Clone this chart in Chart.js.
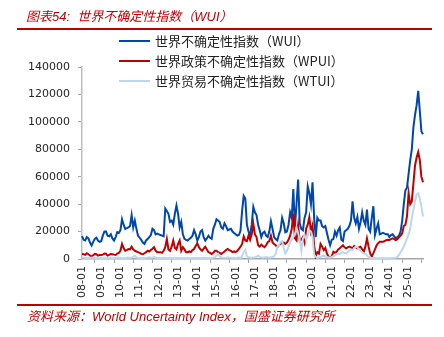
<!DOCTYPE html>
<html>
<head>
<meta charset="utf-8">
<script src="https://cdn.jsdelivr.net/npm/chart.js@4"></script>
<style>
  body { margin: 0; background: #fff; }
  #wrap { position: relative; width: 444px; height: 337px; overflow: hidden; }
  #c { position: absolute; left: 0; top: 0; }
  .red-txt { position: absolute; color: #c00000; font-style: italic; font-size: 13px; white-space: nowrap;
             font-family: "Liberation Sans", "Noto Sans CJK SC", sans-serif; }
  .rule { position: absolute; left: 17px; width: 415px; height: 1.5px; background: #c00000; }
  .leg { position: absolute; left: 119px; height: 16px; }
  .leg i { position: absolute; left: 0; top: 7px; width: 31px; height: 2px; }
  .leg span { position: absolute; left: 36px; top: 0; white-space: nowrap; font-size: 13px; line-height: 16px;
              color: #222; font-family: "Noto Sans CJK SC", sans-serif; }
</style>
</head>
<body>
<div id="wrap">
  <canvas id="c" width="444" height="337"></canvas>
  <div class="red-txt" style="left:26px; top:6px;">图表54:&nbsp; 世界不确定性指数（WUI）</div>
  <div class="rule" style="top:28px;"></div>
  <div class="leg" style="top:33px;"><i style="background:#0047ab"></i><span>世界不确定性指数（WUI）</span></div>
  <div class="leg" style="top:53px;"><i style="background:#c00000"></i><span>世界政策不确定性指数（WPUI）</span></div>
  <div class="leg" style="top:73px;"><i style="background:#bdd7ee"></i><span>世界贸易不确定性指数（WTUI）</span></div>
  <div class="rule" style="top:304px;"></div>
  <div class="red-txt" style="left:27px; top:306px;">资料来源：World Uncertainty Index，国盛证券研究所</div>
</div>
<script>
// monthly, 2008-01 .. 2025-10
const years = ['08','09','10','11','12','13','14','15','16','17','18','19','20','21','22','23','24','25'];
const monthsLastYear = 10;

const wui = [
  16700, 14000, 13500, 16000, 15000, 12000, 9800, 12500, 14700, 15500, 13500, 12500,
  13000, 17000, 20000, 20000, 17000, 16500, 18000, 15000, 13500, 16000, 19600, 19000,
  21000, 29000, 25000, 22000, 22500, 23000, 24000, 32000, 23000, 28000, 22000, 17000,
  15500, 14000, 12000, 11000, 13500, 14500, 16000, 17500, 22000, 21000, 18000, 18500,
  18000, 17500, 17000, 16500, 36800, 35000, 33000, 27000, 28000, 25000, 33000, 39000,
  33000, 23000, 27000, 18000, 14700, 14000, 13500, 14500, 15500, 17000, 21000, 18000,
  13500, 16000, 20000, 21000, 16000, 13500, 15000, 17000, 15500, 14700, 22000, 25000,
  29000, 28000, 27000, 23000, 22000, 26000, 24000, 21000, 21500, 22000, 20000, 19000,
  18000, 17000, 17500, 20500, 35000, 46000, 44000, 25000, 20000, 17000, 25000, 38000,
  34000, 32000, 25000, 21000, 16000, 19000, 20000, 17000, 16000, 20000, 27500, 22000,
  16000, 14500, 13500, 18000, 21000, 30000, 26000, 19500, 20000, 25000, 34000, 30000,
  51000, 23000, 40000, 58000, 26000, 22000, 21000, 30000, 34000, 53000, 48000, 40000,
  56000, 30000, 16000, 30000, 28000, 28000, 24000, 23000, 24000, 19000, 14000, 10000,
  14000, 14500, 20000, 17000, 21000, 23000, 14000, 13000, 20000, 21000, 22000, 24000,
  28000, 42000, 30000, 26000, 30600, 22000, 27000, 34000, 28000, 25000, 36000, 22000,
  20000, 30000, 38500, 17500, 22000, 26000, 18000, 18500, 19000, 18500, 18000, 18000,
  16000, 17500, 18000, 16500, 15000, 16000, 17000, 20000, 28000, 40000, 50000, 52000,
  62000, 72000, 80000, 96000, 105000, 112000, 122600, 108000, 93000, 91000
];

const wpui = [
  3700, 3500, 3000, 4200, 3500, 2500, 1700, 2800, 3700, 3500, 2500, 3000,
  3000, 3200, 4000, 3800, 2500, 3000, 3700, 3500, 3200, 3000, 4000, 4500,
  6000, 11000, 8000, 6000, 6500, 7300, 7000, 9000, 7000, 6000, 5500, 5000,
  4500, 3700, 3500, 4200, 5000, 6000, 5500, 6600, 7500, 8600, 6000, 5000,
  5000, 5000, 4500, 6000, 8600, 14700, 7000, 6000, 9000, 13500, 8000, 7000,
  11000, 13500, 6000, 8600, 7000, 5000, 5000, 5500, 5000, 6500, 7300, 9500,
  11500, 8600, 7000, 6000, 7500, 9000, 7000, 5000, 4500, 3700, 4500, 6000,
  6000, 5000, 4500, 3700, 4500, 5500, 6500, 7300, 6500, 6000, 5000, 5500,
  5000, 6000, 7300, 9000, 11000, 16400, 13500, 13000, 17000, 14000, 18000, 25700,
  18000, 16000, 10000, 9000, 10500, 9500, 8600, 10000, 12200, 13000, 17000, 12000,
  11000, 10000, 8600, 10000, 11000, 12200, 12000, 11000, 12000, 14000, 17000, 22000,
  33000, 15000, 13500, 24500, 13500, 14000, 16000, 12000, 22000, 25000, 30600, 20000,
  24500, 10000, 2000, 5000, 4000, 11000, 9000, 6500, 8000, 4000, 1700, 1200,
  2000, 5300, 4500, 5300, 7000, 7800, 9000, 10000, 8500, 7800, 8500, 9000,
  8500, 7800, 9500, 8500, 7800, 8500, 9000, 7000, 5300, 9000, 15000, 9000,
  4000, 1700, 4300, 7000, 10000, 11500, 12600, 12600, 12600, 13000, 13800, 14000,
  13800, 14500, 15000, 14500, 13800, 14500, 16000, 17000, 18700, 24000, 25000, 31000,
  48000, 40000, 42000, 55000, 68000, 74000, 78000, 72000, 60000, 56000
];

const wtui = [
  1200, 1000, 800, 900, 700, 800, 1000, 900, 700, 800, 600, 700,
  700, 800, 600, 700, 900, 800, 700, 600, 800, 700, 900, 1000,
  900, 800, 700, 800, 900, 1000, 800, 1200, 1500, 2500, 1200, 900,
  800, 700, 800, 700, 900, 1000, 1200, 900, 1000, 1500, 900, 800,
  700, 800, 700, 900, 800, 700, 800, 900, 700, 800, 900, 800,
  700, 800, 700, 600, 700, 800, 700, 600, 700, 800, 700, 800,
  700, 800, 700, 800, 900, 800, 700, 800, 900, 800, 1000, 1200,
  2500, 3700, 2000, 1200, 1000, 900, 1000, 1200, 1000, 900, 800, 900,
  800, 900, 1000, 800, 2000, 5000, 6500, 2000, 1200, 1000, 900, 1000,
  1200, 1500, 2500, 1500, 1200, 1000, 1200, 1500, 1200, 1000, 1300, 1500,
  2000, 4000, 9000, 10000, 12600, 13000, 8000, 4000, 6000, 9000, 12000, 14000,
  16000, 18000, 23000, 19000, 14000, 6000, 15000, 17500, 14000, 17000, 21000, 20000,
  16000, 3000, 1500, 1000, 1200, 1500, 2000, 2500, 1800, 1500, 1200, 1000,
  1500, 2000, 2500, 3500, 4000, 3500, 4500, 5000, 4500, 4000, 5000, 6000,
  7000, 6500, 8000, 9000, 8500, 7000, 6000, 5000, 4000, 3500, 2500, 1500,
  800, 700, 600, 700, 600, 500, 600, 700, 600, 500, 600, 700,
  600, 700, 800, 700, 1000, 1500, 3000, 5000, 7000, 9000, 12000, 15000,
  18000, 22000, 30000, 36000, 42000, 47000, 48000, 44000, 38000, 31000
];

const labels = [];
years.forEach(function(y, k){
  const n = k === years.length - 1 ? monthsLastYear : 12;
  for (let m = 1; m <= n; m++) labels.push(y + '-' + (m < 10 ? '0' + m : m));
});

const axisGrey = '#a6a6a6';

const data = {
  labels: labels,
  datasets: [{
    label: '世界不确定性指数（WUI）',
    data: wui,
    borderColor: '#0047ab',
    borderWidth: 2,
    order: 2
  }, {
    label: '世界政策不确定性指数（WPUI）',
    data: wpui,
    borderColor: '#c00000',
    borderWidth: 2,
    order: 1
  }, {
    label: '世界贸易不确定性指数（WTUI）',
    data: wtui,
    borderColor: '#bdd7ee',
    borderWidth: 2,
    order: 0
  }]
};

const config = {
  type: 'line',
  data: data,
  options: {
    responsive: false,
    animation: false,
    layout: { padding: { top: 67, right: 21, bottom: 0, left: 0 } },
    elements: { point: { radius: 0 }, line: { tension: 0 } },
    plugins: { legend: { display: false }, tooltip: { enabled: false } },
    scales: {
      x: {
        grid: {
          drawOnChartArea: false,
          tickLength: 4,
          color: function(ctx){ return ctx.index % 12 === 8 ? axisGrey : 'rgba(0,0,0,0)'; }
        },
        border: { color: axisGrey, width: 1.5 },
        ticks: {
          autoSkip: false,
          minRotation: 90,
          maxRotation: 90,
          padding: 3,
          color: '#262626',
          font: { family: 'DejaVu Sans', size: 11 },
          callback: function(v, i){ return i % 12 === 0 ? labels[i] : ''; }
        },
        afterFit: function(s){ s.height = 78; }
      },
      y: {
        min: 0,
        max: 140000,
        grid: { drawOnChartArea: false, tickLength: 4, color: axisGrey },
        border: { color: '#bfbfbf', width: 1.5 },
        ticks: {
          stepSize: 20000,
          padding: 8,
          color: '#262626',
          font: { family: 'DejaVu Sans', size: 11 },
          callback: function(v){ return String(v); }
        },
        afterFit: function(s){ s.width = 82; }
      }
    }
  }
};

var myChart = new Chart(document.getElementById('c'), config);
</script>
</body>
</html>
